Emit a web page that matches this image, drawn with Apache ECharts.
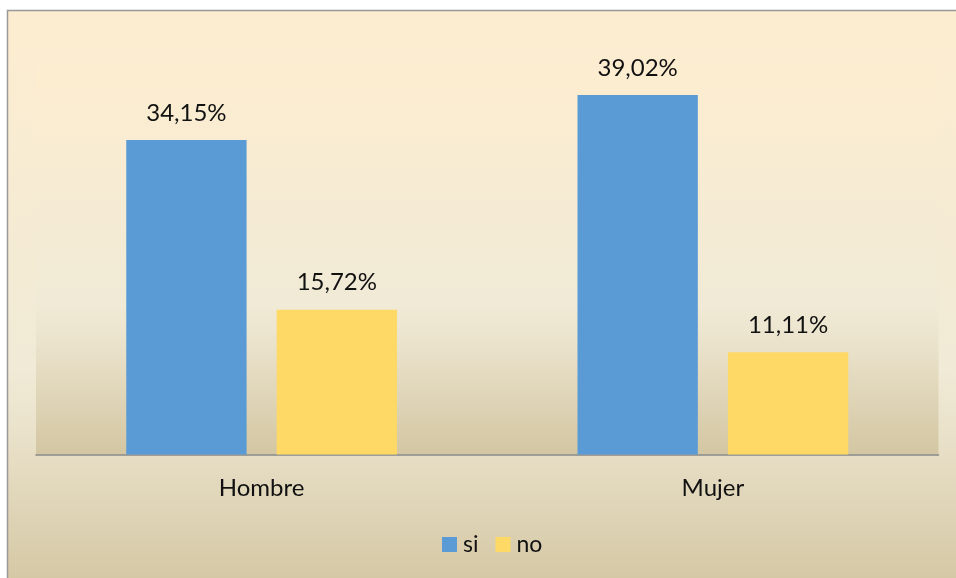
<!DOCTYPE html>
<html>
<head>
<meta charset="utf-8">
<script src="https://cdn.jsdelivr.net/npm/echarts@6/dist/echarts.min.js"></script>
<style>
  html, body { margin: 0; padding: 0; background: #fff; }
  #chart { width: 956px; height: 578px; }
</style>
</head>
<body>
<div id="chart"></div>
<script>
const categories = ['Hombre', 'Mujer'];
const siValues = [34.15, 39.02];
const noValues = [15.72, 11.11];

const chart = echarts.init(document.getElementById('chart'));

const bgGradient = () => new echarts.graphic.LinearGradient(0, 0, 0, 1, [
  { offset: 0, color: '#FDEDD0' },
  { offset: 0.62, color: '#F0EAD6' },
  { offset: 0.72, color: '#EAE2CB' },
  { offset: 1, color: '#D3C6A2' }
]);

const fmt = p => p.value.toFixed(2).replace('.', ',') + '%';

const option = {
  backgroundColor: '#fff',
  textStyle: { fontFamily: 'Lato' },
  graphic: [{
    type: 'rect',
    z: -10,
    silent: true,
    shape: { x: 7.5, y: 10.5, width: 960, height: 580 },
    style: { fill: bgGradient(), stroke: '#999', lineWidth: 1.5 }
  }],
  grid: {
    left: 36, right: 17.5, top: 63, bottom: 123.5,
    show: true,
    borderWidth: 0,
    backgroundColor: bgGradient()
  },
  legend: {
    data: ['si', 'no'],
    bottom: 17,
    left: 437,
    itemWidth: 15,
    itemHeight: 15,
    itemGap: 17,
    icon: 'rect',
    textStyle: { fontSize: 23, color: '#111', fontFamily: 'Lato', padding: [0, 0, 0, 1] }
  },
  xAxis: {
    type: 'category',
    data: categories,
    axisLine: { lineStyle: { color: '#888', width: 1.5 } },
    axisTick: { show: false },
    axisLabel: { fontSize: 24, color: '#111', margin: 22 }
  },
  yAxis: {
    type: 'value',
    min: 0,
    max: 42.5,
    show: false,
    splitLine: { show: false }
  },
  series: [
    {
      name: 'si',
      type: 'bar',
      data: siValues,
      barGap: '25%',
      barCategoryGap: '40%',
      itemStyle: { color: '#5B9BD5' },
      label: { show: true, position: 'top', distance: 15, fontSize: 24, color: '#111', formatter: fmt }
    },
    {
      name: 'no',
      type: 'bar',
      data: noValues,
      barGap: '25%',
      barCategoryGap: '40%',
      itemStyle: { color: '#FFD966' },
      label: { show: true, position: 'top', distance: 15, fontSize: 24, color: '#111', formatter: fmt }
    }
  ]
};

chart.setOption(option);
</script>
</body>
</html>
